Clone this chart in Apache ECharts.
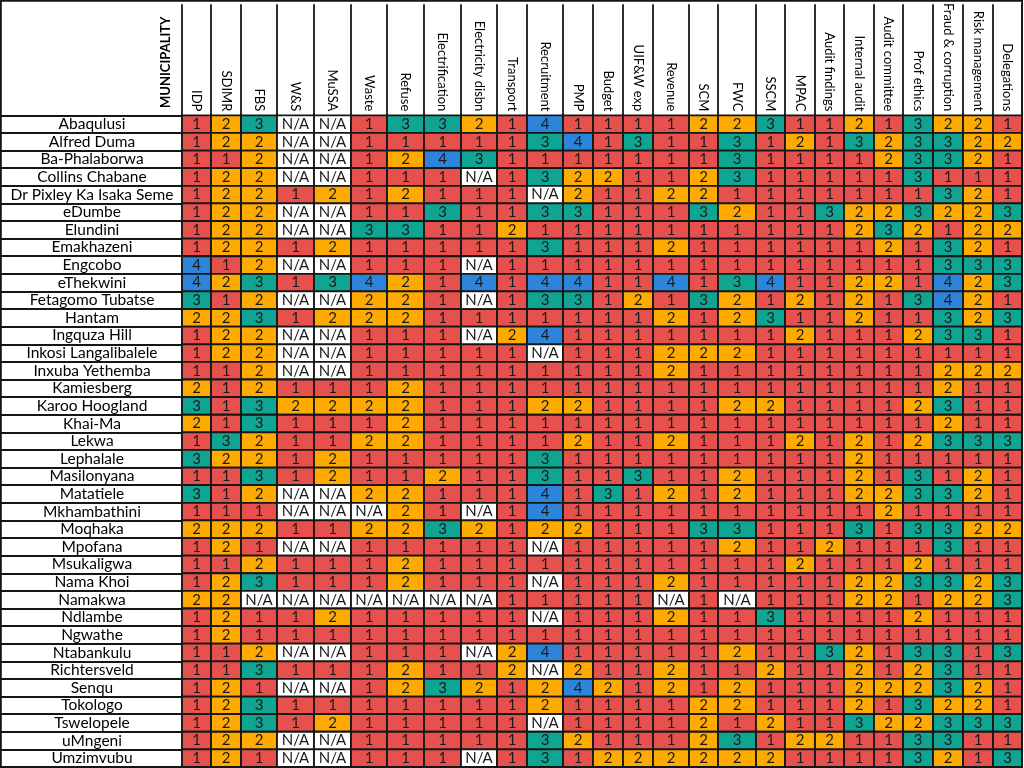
<!DOCTYPE html>
<html><head><meta charset="utf-8">
<script src="https://cdn.jsdelivr.net/npm/echarts@6/dist/echarts.min.js"></script>
<style>html,body{margin:0;padding:0;background:#fff}#c{width:1024px;height:768px}</style>
</head><body><div id="c"></div>
<script>
const indicators = ['IDP','SDIMR','FBS','W&S','MuSSA','Waste','Refuse','Electrification','Electricity disbn','Transport','Recruitment','PMP','Budget','UIF&W exp','Revenue','SCM','FWC','SSCM','MPAC','Audit findings','Internal audit','Audit committee','Prof ethics','Fraud & corruption','Risk management','Delegations'];
const municipalities = ['Abaqulusi','Alfred Duma','Ba-Phalaborwa','Collins Chabane','Dr Pixley Ka Isaka Seme','eDumbe','Elundini','Emakhazeni','Engcobo','eThekwini','Fetagomo Tubatse','Hantam','Ingquza Hill','Inkosi Langalibalele','Inxuba Yethemba','Kamiesberg','Karoo Hoogland','Khai-Ma','Lekwa','Lephalale','Masilonyana','Matatiele','Mkhambathini','Moqhaka','Mpofana','Msukaligwa','Nama Khoi','Namakwa','Ndlambe','Ngwathe','Ntabankulu','Richtersveld','Senqu','Tokologo','Tswelopele','uMngeni','Umzimvubu'];
const N = null; // N/A
const scoreRows = [
 [1,2,3,N,N,1,3,3,2,1,4,1, 1,1,1,2,2,3,1,1,2,1,3,2,2,1],
 [1,2,2,N,N,1,1,1,1,1,3,4, 1,3,1,1,3,1,2,1,3,2,3,3,2,2],
 [1,1,2,N,N,1,2,4,3,1,1,1, 1,1,1,1,3,1,1,1,1,2,3,3,2,1],
 [1,2,2,N,N,1,1,1,N,1,3,2, 2,1,1,2,3,1,1,1,1,1,3,1,1,1],
 [1,2,2,1,2,1,2,1,1,1,N,2, 1,1,2,2,1,1,1,1,1,1,1,3,2,1],
 [1,2,2,N,N,1,1,3,1,1,3,3, 1,1,1,3,2,1,1,3,2,2,3,2,2,3],
 [1,2,2,N,N,3,3,1,1,2,1,1, 1,1,1,1,1,1,1,1,2,3,2,1,2,2],
 [1,2,2,1,2,1,1,1,1,1,3,1, 1,1,2,1,1,1,1,1,1,2,1,3,2,1],
 [4,1,2,N,N,1,1,1,N,1,1,1, 1,1,1,1,1,1,1,1,1,1,1,3,3,3],
 [4,2,3,1,3,4,2,1,4,1,4,4, 1,1,4,1,3,4,1,1,2,2,1,4,2,3],
 [3,1,2,N,N,2,2,1,N,1,3,3, 1,2,1,3,2,1,2,1,2,1,3,4,2,1],
 [2,2,3,1,2,2,2,1,1,1,1,1, 1,1,2,1,2,3,1,1,2,1,1,3,2,3],
 [1,2,2,N,N,1,1,1,N,2,4,1, 1,1,1,1,1,1,2,1,1,1,2,3,3,1],
 [1,2,2,N,N,1,1,1,1,1,N,1, 1,1,2,2,2,1,1,1,1,1,1,1,1,1],
 [1,1,2,N,N,1,1,1,1,1,1,1, 1,1,2,1,1,1,1,1,1,1,1,2,2,2],
 [2,1,2,1,1,1,2,1,1,1,1,1, 1,1,1,1,1,1,1,1,1,1,1,2,1,1],
 [3,1,3,2,2,2,2,1,1,1,2,2, 1,1,1,1,2,2,1,1,1,1,2,3,1,1],
 [2,1,3,1,1,1,2,1,1,1,1,1, 1,1,1,1,1,1,1,1,1,1,1,2,1,1],
 [1,3,2,1,1,2,2,1,1,1,1,2, 1,1,2,1,1,1,2,1,2,1,2,3,3,3],
 [3,2,2,1,2,1,1,1,1,1,3,1, 1,1,1,1,1,1,1,1,2,1,1,1,1,1],
 [1,1,3,1,2,1,1,2,1,1,3,1, 1,3,1,1,2,1,1,1,2,1,3,1,2,1],
 [3,1,2,N,N,2,2,1,1,1,4,1, 3,1,2,1,2,1,1,1,2,2,3,3,2,1],
 [1,1,1,N,N,N,2,1,N,1,4,1, 1,1,1,1,1,1,1,1,1,2,1,1,1,1],
 [2,2,2,1,1,2,2,3,2,1,2,2, 1,1,1,3,3,1,1,1,3,1,3,3,2,2],
 [1,2,1,N,N,1,1,1,1,1,N,1, 1,1,1,1,2,1,1,2,1,1,1,3,1,1],
 [1,1,2,1,1,1,2,1,1,1,1,1, 1,1,1,1,1,1,2,1,1,1,2,1,1,1],
 [1,2,3,1,1,1,2,1,1,1,N,1, 1,1,2,1,1,1,1,1,2,2,3,3,2,3],
 [2,2,N,N,N,N,N,N,N,1,1,1, 1,1,N,1,N,1,1,1,2,2,1,2,2,3],
 [1,2,1,1,2,1,1,1,1,1,N,1, 1,1,2,1,1,3,1,1,1,1,2,1,1,1],
 [1,2,1,1,1,1,1,1,1,1,1,1, 1,1,1,1,1,1,1,1,1,1,1,1,1,1],
 [1,1,2,N,N,1,1,1,N,2,4,1, 1,1,1,1,2,1,1,3,2,1,3,3,1,3],
 [1,1,3,1,1,1,2,1,1,2,N,2, 1,1,2,1,1,2,1,1,2,1,2,3,1,1],
 [1,2,1,N,N,1,2,3,2,1,2,4, 2,1,2,1,2,1,1,1,2,2,2,3,2,1],
 [1,2,3,1,1,1,1,1,1,1,2,1, 1,1,1,2,2,1,1,1,2,1,3,2,2,1],
 [1,2,3,1,2,1,1,1,1,1,N,1, 1,1,1,2,1,2,1,1,3,2,2,3,3,3],
 [1,2,2,N,N,1,1,1,1,1,3,2, 1,1,1,2,3,1,2,2,1,1,3,3,1,1],
 [1,2,1,N,N,1,1,1,N,1,3,1, 2,2,2,2,2,2,1,1,1,1,3,2,1,3]
];

// ---- layout / style (not data) ----
// relative column widths of the spreadsheet table (the reference has unequal columns)
const columnWidths = [29,30,36,37,37,36,37,37,36,30,36,30,30,30,36,29,38,29,30,29,30,29,30,30,30,29];
const scoreColors = {0:'#ffffff',1:'#E6514E',2:'#FFAA00',3:'#10A492',4:'#2C85DB'};
const FONT = 'Lato, "Open Sans", sans-serif';
const LINE = '#161616';

const edges = [0];
columnWidths.forEach(w => edges.push(edges[edges.length - 1] + w));
const centers = columnWidths.map((w, j) => edges[j] + w / 2);

const cells = [];
scoreRows.forEach((row, i) => row.forEach((v, j) =>
  cells.push([edges[j], edges[j + 1], i, v === null ? 0 : v])));

const chart = echarts.init(document.getElementById('c'));
chart.setOption({
  animation: false,
  backgroundColor: '#fff',
  grid: {left: 182, right: 2, top: 111, bottom: 1},
  xAxis: {
    type: 'value', min: 0, max: edges[edges.length - 1], position: 'top',
    axisLine: {show: true, lineStyle: {color: LINE, width: 1.8}},
    axisTick: {show: true, customValues: edges, length: 111, lineStyle: {color: LINE, width: 1.8}},
    axisLabel: {customValues: centers, rotate: 90, margin: 4, fontSize: 13, color: '#000', fontFamily: FONT,
      formatter: v => {
        let best = 0;
        centers.forEach((c, k) => { if (Math.abs(c - v) < Math.abs(centers[best] - v)) best = k; });
        return indicators[best];
      }},
    splitLine: {show: false}
  },
  yAxis: {
    type: 'category', data: municipalities, inverse: true,
    axisLine: {show: true, lineStyle: {color: LINE, width: 1.8}},
    axisTick: {show: true, interval: 0, length: 182, lineStyle: {color: LINE, width: 1.8}},
    axisLabel: {interval: 0, margin: 90, align: 'center', fontSize: 15.5, color: '#000', fontFamily: FONT},
    splitLine: {show: false}
  },
  graphic: [
    {type: 'rect', shape: {x: 0.9, y: 0.9, width: 1021.2, height: 766.2}, style: {fill: null, stroke: LINE, lineWidth: 1.8}, silent: true, z: 100},
    {type: 'text', x: 166, y: 108, rotation: Math.PI / 2,
     style: {text: 'MUNICIPALITY', fontSize: 13, fontWeight: 'bold', fontFamily: FONT, fill: '#000', align: 'left', verticalAlign: 'middle'}}
  ],
  series: [{
    type: 'custom', data: cells,
    encode: {x: [0, 1], y: 2},
    renderItem: (params, api) => {
      const v = api.value(3);
      const a = api.coord([api.value(0), api.value(2)]);
      const b = api.coord([api.value(1), api.value(2)]);
      const h = api.size([0, 1])[1];
      return {
        type: 'rect',
        shape: {x: a[0], y: a[1] - h / 2, width: b[0] - a[0], height: h},
        style: {fill: scoreColors[v], stroke: LINE, lineWidth: 1.8},
        textContent: {style: {text: v === 0 ? 'N/A' : String(v), fontSize: 15, fontFamily: FONT, fill: '#1a1a1a'}},
        textConfig: {position: 'inside'}
      };
    },
    emphasis: {disabled: true}
  }]
});
</script>
</body></html>
